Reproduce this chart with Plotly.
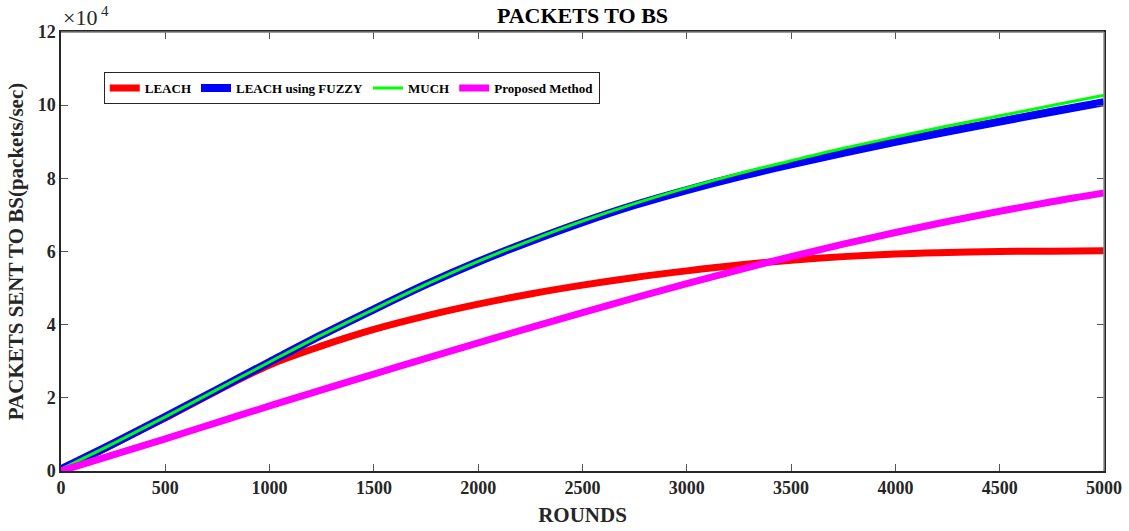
import plotly.graph_objects as go

rounds = [0, 250, 500, 750, 1000, 1250, 1500, 1750, 2000, 2250, 2500,
          2750, 3000, 3250, 3500, 3750, 4000, 4250, 4500, 4750, 5000]

# values in units of 10^4 packets
leach = [0.0, 0.73, 1.45, 2.2, 2.9, 3.42, 3.87, 4.24, 4.56, 4.84, 5.08,
         5.29, 5.47, 5.63, 5.76, 5.86, 5.93, 5.97, 6.0, 6.01, 6.02]
leach_fuzzy = [0.05, 0.75, 1.48, 2.23, 2.98, 3.72, 4.42, 5.1, 5.72, 6.28, 6.8,
               7.27, 7.68, 8.05, 8.38, 8.7, 9.0, 9.28, 9.55, 9.82, 10.08]
much = [0.05, 0.75, 1.48, 2.23, 2.98, 3.72, 4.42, 5.1, 5.73, 6.3, 6.83,
        7.31, 7.74, 8.13, 8.48, 8.82, 9.13, 9.43, 9.71, 9.99, 10.27]
proposed = [0.0, 0.44, 0.88, 1.33, 1.78, 2.22, 2.65, 3.08, 3.5, 3.92, 4.33,
            4.73, 5.12, 5.5, 5.86, 6.2, 6.52, 6.82, 7.1, 7.36, 7.6]

x_ticks = [0, 500, 1000, 1500, 2000, 2500, 3000, 3500, 4000, 4500, 5000]
y_ticks = [0, 2, 4, 6, 8, 10, 12]

FONT = "Liberation Serif"

fig = go.Figure()
fig.add_trace(go.Scatter(x=rounds, y=leach, mode="lines", name="<b>LEACH</b>",
                         line=dict(color="#ff0000", width=7, shape="spline")))
fig.add_trace(go.Scatter(x=rounds, y=leach_fuzzy, mode="lines", name="<b>LEACH using FUZZY</b>",
                         line=dict(color="#0000ff", width=8, shape="spline")))
fig.add_trace(go.Scatter(x=rounds, y=much, mode="lines", name="<b>MUCH</b>",
                         line=dict(color="#00ff00", width=3, shape="spline")))
fig.add_trace(go.Scatter(x=rounds, y=proposed, mode="lines", name="<b>Proposed Method</b>",
                         line=dict(color="#ff00ff", width=7, shape="spline")))

axis_common = dict(
    showgrid=False, zeroline=False, showline=True, mirror="ticks",
    linecolor="#262626", linewidth=1.5, ticks="inside", ticklen=7,
    tickcolor="#555555", tickwidth=1, automargin=False,
    tickfont=dict(family=FONT, size=18, color="#262626"),
)

fig.update_layout(
    width=1129, height=531,
    paper_bgcolor="white", plot_bgcolor="white",
    margin=dict(l=61, r=25, t=32, b=60),
    font=dict(family=FONT, color="#262626"),
    title=dict(text="<b>PACKETS TO BS</b>", x=0.5, xanchor="center",
               xref="paper", y=1 - 15 / 531, yref="container", yanchor="middle",
               font=dict(family=FONT, size=22, color="#000000")),
    xaxis=dict(range=[0, 5000], tickvals=x_ticks,
               ticktext=[f"<b>{v}</b>" for v in x_ticks],
               title=dict(text="<b>ROUNDS</b>", standoff=10,
                          font=dict(family=FONT, size=21, color="#262626")),
               **axis_common),
    yaxis=dict(range=[0, 12], tickvals=y_ticks,
               ticktext=[f"<b>{v}</b>" for v in y_ticks],
               title=dict(text="<b>PACKETS SENT TO BS(packets/sec)</b>", standoff=8,
                          font=dict(family=FONT, size=21, color="#262626")),
               **axis_common),
    legend=dict(orientation="h", x=0.041, y=0.909, xanchor="left", yanchor="top",
                bordercolor="#262626", borderwidth=1, bgcolor="white",
                font=dict(family=FONT, size=13, color="#000000"),
                itemwidth=30, tracegroupgap=0),
    showlegend=True,
)

# lighter top and right frame lines, as in the reference
fig.add_shape(type="line", xref="paper", yref="paper", x0=0, x1=1, y0=1, y1=1,
              line=dict(color="#7a7a7a", width=1.5), layer="above")
fig.add_shape(type="line", xref="paper", yref="paper", x0=1, x1=1, y0=0, y1=1,
              line=dict(color="#8c8c8c", width=1.5), layer="above")

fig.add_annotation(text="×10", xref="paper", yref="paper",
                   x=0.0, y=1.0, xanchor="left", yanchor="bottom", yshift=0,
                   showarrow=False, font=dict(family=FONT, size=22, color="#262626"))
fig.add_annotation(text="4", xref="paper", yref="paper",
                   x=0.0, y=1.0, xanchor="left", yanchor="bottom", xshift=38, yshift=11,
                   showarrow=False, font=dict(family=FONT, size=15, color="#262626"))

fig.write_html("out.html", config={"displayModeBar": False},
               post_script="document.body.style.margin='0';")
